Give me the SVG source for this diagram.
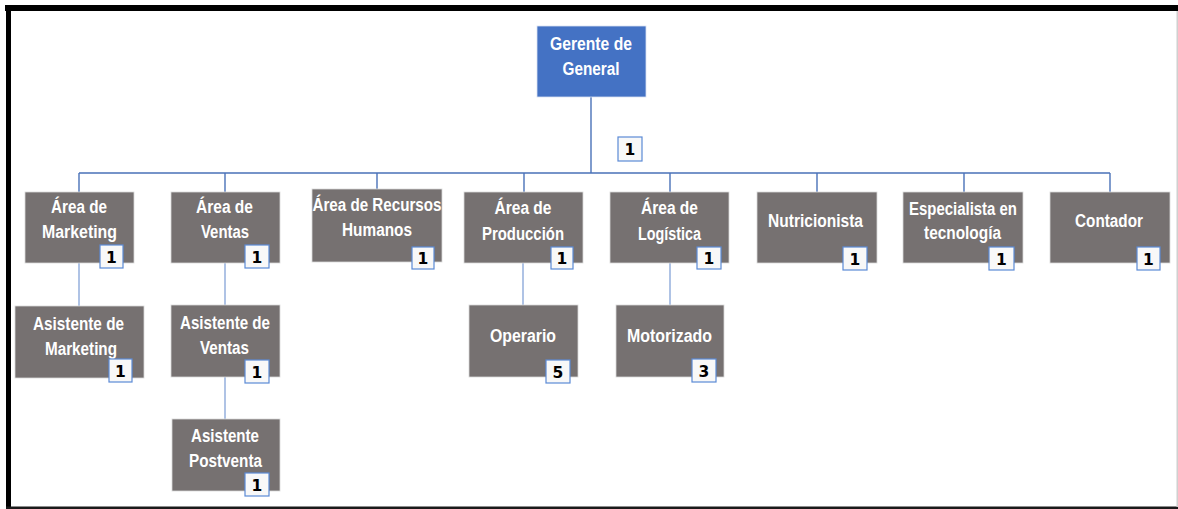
<svg xmlns="http://www.w3.org/2000/svg" width="1178" height="509" viewBox="0 0 1178 509">
<style>
.n{fill:#767171;stroke:#d9d9d9;stroke-width:0.8}
.top{fill:#4472C4;stroke:#d9e2f3;stroke-width:0.8}
.t{font-family:"Liberation Sans",Arial,sans-serif;font-weight:bold;font-size:18px;fill:#ffffff;text-anchor:middle}
.b{fill:#f8f8f8;stroke:#5b8ad6;stroke-width:1.2}
.bt{font-family:"DejaVu Sans","Liberation Sans",sans-serif;font-weight:bold;font-size:15.5px;fill:#000000;text-anchor:middle}
.c{stroke:#4a72b8;stroke-width:1.4;fill:none}
.c2{stroke:#8eaadb;stroke-width:1.4;fill:none}
</style>
<rect x="0" y="0" width="1178" height="509" fill="#ffffff"/>
<g id="frame">
<rect x="5" y="5" width="1173" height="6" fill="#000000"/>
<rect x="6" y="5" width="5" height="504" fill="#000000"/>
<rect x="6" y="506.5" width="1172" height="2.5" fill="#1a1a1a"/>
<rect x="1176.5" y="11" width="1.5" height="496" fill="#d0d0d0"/>
</g>
<g id="connectors">
<path class="c" d="M591 97 V173 M79 173 H1110"/>
<path class="c" d="M79 173 V192 M225 173 V192 M377 173 V189 M524 173 V192 M670 173 V192 M817 173 V192 M964 173 V192 M1110 173 V192"/>
<path class="c2" d="M79 263 V306 M225 263 V305 M225 377 V419 M523 263 V305 M670 263 V305"/>
</g>
<g id="gerente">
<rect class="top" x="537" y="26" width="109" height="71"/>
<text class="t" x="591" y="50" textLength="82" lengthAdjust="spacingAndGlyphs">Gerente de</text>
<text class="t" x="591" y="75" textLength="57" lengthAdjust="spacingAndGlyphs">General</text>
<rect class="b" x="618" y="137" width="24" height="24"/>
<text class="bt" x="630" y="155">1</text>
</g>
<g id="marketing">
<rect class="n" x="25" y="192" width="109" height="71"/>
<text class="t" x="79" y="213" textLength="56" lengthAdjust="spacingAndGlyphs">Área de</text>
<text class="t" x="79.5" y="238" textLength="75" lengthAdjust="spacingAndGlyphs">Marketing</text>
<rect class="b" x="100" y="245" width="23" height="23"/>
<text class="bt" x="111.5" y="262.5">1</text>
</g>
<g id="ventas">
<rect class="n" x="171" y="192" width="109" height="71"/>
<text class="t" x="224.5" y="213" textLength="57" lengthAdjust="spacingAndGlyphs">Área de</text>
<text class="t" x="225" y="238" textLength="48" lengthAdjust="spacingAndGlyphs">Ventas</text>
<rect class="b" x="245" y="245" width="24" height="23"/>
<text class="bt" x="257" y="262.5">1</text>
</g>
<g id="rrhh">
<rect class="n" x="312" y="189" width="130" height="73"/>
<text class="t" x="377" y="211" textLength="129" lengthAdjust="spacingAndGlyphs">Área de Recursos</text>
<text class="t" x="377" y="236" textLength="70" lengthAdjust="spacingAndGlyphs">Humanos</text>
<rect class="b" x="412" y="247" width="22" height="22"/>
<text class="bt" x="423" y="264">1</text>
</g>
<g id="produccion">
<rect class="n" x="464" y="192" width="119" height="71"/>
<text class="t" x="523" y="214" textLength="57" lengthAdjust="spacingAndGlyphs">Área de</text>
<text class="t" x="523" y="240" textLength="82" lengthAdjust="spacingAndGlyphs">Producción</text>
<rect class="b" x="551" y="247" width="22" height="22"/>
<text class="bt" x="562" y="264">1</text>
</g>
<g id="logistica">
<rect class="n" x="610" y="192" width="119" height="71"/>
<text class="t" x="669.5" y="214" textLength="57" lengthAdjust="spacingAndGlyphs">Área de</text>
<text class="t" x="669.5" y="240" textLength="63" lengthAdjust="spacingAndGlyphs">Logística</text>
<rect class="b" x="697" y="247" width="24" height="22"/>
<text class="bt" x="709" y="264">1</text>
</g>
<g id="nutricionista">
<rect class="n" x="757" y="192" width="120" height="71"/>
<text class="t" x="815.5" y="227" textLength="95" lengthAdjust="spacingAndGlyphs">Nutricionista</text>
<rect class="b" x="843" y="247" width="24" height="23"/>
<text class="bt" x="855" y="264.5">1</text>
</g>
<g id="especialista">
<rect class="n" x="903" y="192" width="120" height="71"/>
<text class="t" x="963" y="215" textLength="108" lengthAdjust="spacingAndGlyphs">Especialista en</text>
<text class="t" x="962.5" y="239" textLength="77" lengthAdjust="spacingAndGlyphs">tecnología</text>
<rect class="b" x="989" y="247" width="25" height="23"/>
<text class="bt" x="1001.5" y="264.5">1</text>
</g>
<g id="contador">
<rect class="n" x="1050" y="192" width="120" height="71"/>
<text class="t" x="1109" y="227" textLength="68" lengthAdjust="spacingAndGlyphs">Contador</text>
<rect class="b" x="1137" y="247" width="23" height="23"/>
<text class="bt" x="1148.5" y="264.5">1</text>
</g>
<g id="asist-marketing">
<rect class="n" x="15" y="306" width="129" height="72"/>
<text class="t" x="78.5" y="330" textLength="91" lengthAdjust="spacingAndGlyphs">Asistente de</text>
<text class="t" x="81" y="355" textLength="72" lengthAdjust="spacingAndGlyphs">Marketing</text>
<rect class="b" x="109" y="359" width="23" height="23"/>
<text class="bt" x="120.5" y="376.5">1</text>
</g>
<g id="asist-ventas">
<rect class="n" x="171" y="305" width="109" height="72"/>
<text class="t" x="225" y="329" textLength="90" lengthAdjust="spacingAndGlyphs">Asistente de</text>
<text class="t" x="224.5" y="354" textLength="49" lengthAdjust="spacingAndGlyphs">Ventas</text>
<rect class="b" x="245" y="360" width="24" height="23"/>
<text class="bt" x="257" y="377.5">1</text>
</g>
<g id="asist-postventa">
<rect class="n" x="172" y="419" width="108" height="72"/>
<text class="t" x="225" y="442" textLength="68" lengthAdjust="spacingAndGlyphs">Asistente</text>
<text class="t" x="225.5" y="467" textLength="73" lengthAdjust="spacingAndGlyphs">Postventa</text>
<rect class="b" x="245" y="473" width="24" height="23"/>
<text class="bt" x="257" y="490.5">1</text>
</g>
<g id="operario">
<rect class="n" x="469" y="305" width="109" height="72"/>
<text class="t" x="523" y="342" textLength="66" lengthAdjust="spacingAndGlyphs">Operario</text>
<rect class="b" x="546" y="360" width="24" height="23"/>
<text class="bt" x="558" y="377.5">5</text>
</g>
<g id="motorizado">
<rect class="n" x="616" y="305" width="108" height="72"/>
<text class="t" x="669.5" y="342" textLength="85" lengthAdjust="spacingAndGlyphs">Motorizado</text>
<rect class="b" x="692" y="359" width="24" height="23"/>
<text class="bt" x="704" y="376.5">3</text>
</g>
</svg>
